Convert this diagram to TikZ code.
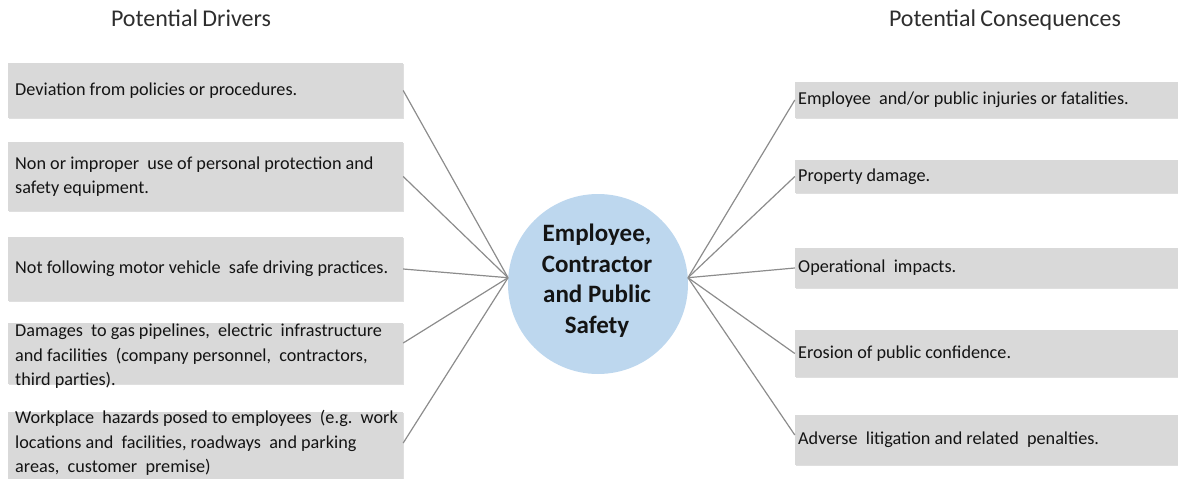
\documentclass[tikz,border=0pt]{standalone}
\usepackage{fontspec}
\setmainfont{Carlito}
\usetikzlibrary{shadows}
\definecolor{boxgray}{HTML}{D9D9D9}
\definecolor{hubblue}{HTML}{BDD7EE}
\definecolor{linegray}{HTML}{8C8C8C}
\definecolor{txt}{HTML}{141414}
\definecolor{ttl}{HTML}{2E2E2E}
\begin{document}
\begin{tikzpicture}[x=1pt,y=-1pt,
  gbox/.style={rectangle, fill=boxgray, inner sep=0pt, minimum width=#1,
    drop shadow={shadow xshift=1pt, shadow yshift=-1pt, opacity=0.25}},
  btext/.style={inner sep=0pt, align=left, text=txt,
    font=\fontsize{18.2}{24.5}\selectfont},
  ttext/.style={inner sep=0pt, text=ttl, font=\fontsize{24}{28}\selectfont},
  hub/.style={circle, fill=hubblue, inner sep=0pt, minimum size=180pt},
  hubtext/.style={inner sep=0pt, align=center, text=txt,
    font=\bfseries\fontsize{25}{30.5}\selectfont},
  conn/.style={draw=linegray, line width=1.2pt}]
\useasboundingbox (0,0) rectangle (1178,479);

% titles
\node[ttext] (tl) at (191,18) {Potential\hspace{0.18em}Drivers};
\node[ttext] (tr) at (1005,20) {Potential\hspace{0.18em}Consequences};

% left boxes
\node[gbox=395pt, minimum height=55pt] (d1) at (205.5,90.5) {};
\node[gbox=395pt, minimum height=69pt] (d2) at (205.5,176.5) {};
\node[gbox=395pt, minimum height=64pt] (d3) at (205.5,269) {};
\node[gbox=395pt, minimum height=61pt] (d4) at (205.5,353.5) {};
\node[gbox=395pt, minimum height=67pt] (d5) at (205.5,445.5) {};

\node[btext, anchor=west] (t1) at (15,90.5) {Deviation from policies or procedures.};
\node[btext, anchor=west] (t2) at (15,176.5) {Non or improper\ \ use of personal protection and\\safety equipment.};
\node[btext, anchor=west] (t3) at (15,269) {Not following motor vehicle\ \ safe driving practices.};
\node[btext, anchor=north west] (t4) at (15,324) {Damages\ \ to gas pipelines,\ \ electric\ \ infrastructure\\and facilities\ \ (company personnel,\ \ contractors,\\third parties).};
\node[btext, anchor=north west] (t5) at (15,410) {Workplace\ \ hazards posed to employees\ \ (e.g.\ \ work\\locations and\ \ facilities, roadways\ \ and parking\\areas,\ \ customer\ \ premise)};

% right boxes
\node[gbox=383pt, minimum height=36pt] (r1) at (986.5,100) {};
\node[gbox=383pt, minimum height=33pt] (r2) at (986.5,176.5) {};
\node[gbox=383pt, minimum height=40pt] (r3) at (986.5,268) {};
\node[gbox=383pt, minimum height=47pt] (r4) at (986.5,353.5) {};
\node[gbox=383pt, minimum height=50pt] (r5) at (986.5,440) {};

\node[btext, anchor=west] (s1) at (798,100) {Employee\ \ and/or public injuries or fatalities.};
\node[btext, anchor=west] (s2) at (798,176.5) {Property damage.};
\node[btext, anchor=west] (s3) at (798,268) {Operational\ \ impacts.};
\node[btext, anchor=west] (s4) at (798,353.5) {Erosion of public confidence.};
\node[btext, anchor=west] (s5) at (798,440) {Adverse\ \ litigation and related\ \ penalties.};

% hub
\node[hub] (c) at (598,284) {};
\node[hubtext] (ct) at (597,280.5) {Employee,\\Contractor\\and Public\\Safety};

% connectors
\draw[conn] (d1.east) -- (c.176);
\draw[conn] (d2.east) -- (c.176);
\draw[conn] (d3.east) -- (c.176);
\draw[conn] ([yshift=10.5pt]d4.east) -- (c.176);
\draw[conn] ([yshift=2.5pt]d5.east) -- (c.176);
\draw[conn] (c.4) -- (r1.west);
\draw[conn] (c.4) -- (r2.west);
\draw[conn] (c.4) -- (r3.west);
\draw[conn] (c.4) -- (r4.west);
\draw[conn] (c.4) -- ([yshift=5pt]r5.west);
\end{tikzpicture}
\end{document}
